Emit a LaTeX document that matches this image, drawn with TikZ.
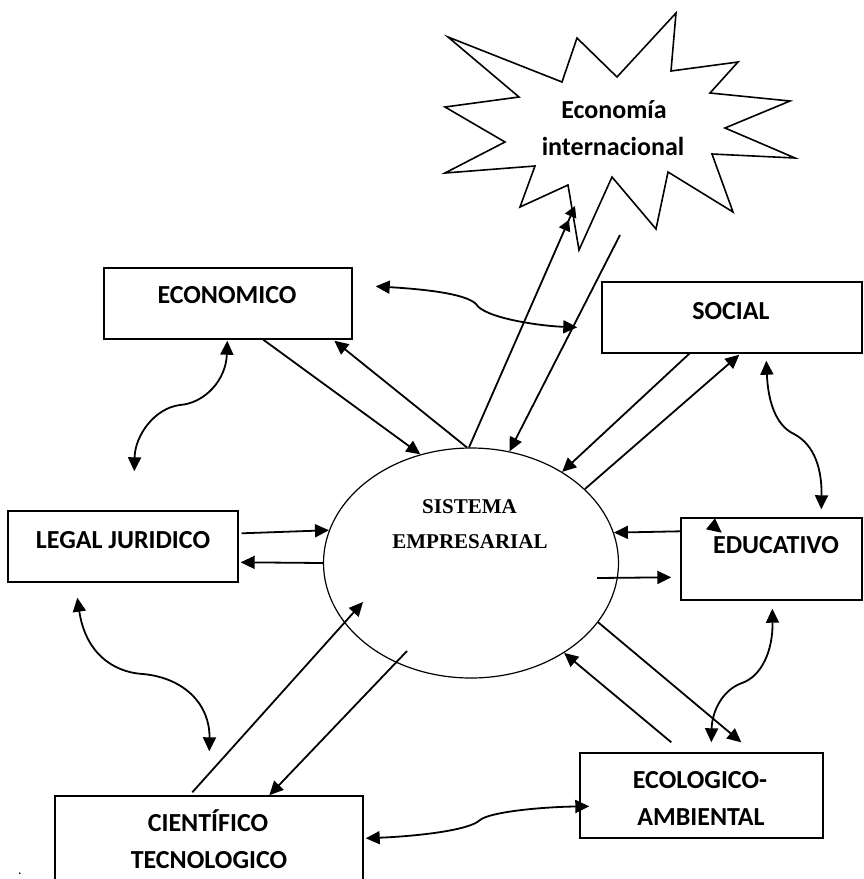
\documentclass[tikz,border=0pt]{standalone}
\usepackage{fontspec}
\setmainfont{Carlito}
\newfontfamily\tnr{Liberation Serif}
\usetikzlibrary{arrows.meta,shapes.geometric,calc}
\begin{document}
\begin{tikzpicture}[x=1pt,y=-1pt,
  box/.style={draw, line width=1.4pt, inner sep=0pt, rectangle},
  lbl/.style={font=\bfseries\fontsize{26}{37}\selectfont, anchor=base, inner sep=0pt},
  serlbl/.style={font=\tnr\bfseries\fontsize{21}{30}\selectfont, anchor=base, inner sep=0pt},
  arr/.style={line width=1.8pt, -{Triangle[length=14pt,width=13pt]}},
  dblarr/.style={line width=1.8pt, -{Triangle[length=11pt,width=12pt,sep=4pt]Triangle[length=11pt,width=12pt]}},
  darr/.style={line width=1.8pt, {Triangle[length=14pt,width=13pt]}-{Triangle[length=14pt,width=13pt]}},
  starline/.style={draw, line width=1.6pt, fill=white, line join=miter}
]
\useasboundingbox (0,0) rectangle (863,879);

% starburst
\path[starline] (448,37) -- (562,82) -- (577,38) -- (617,77) -- (676,13) -- (671,71)
  -- (738,62) -- (710,93) -- (790,101) -- (725,128) -- (795,158) -- (712,154)
  -- (733,212) -- (668,172) -- (656,229) -- (612,177) -- (579,250) -- (568,185)
  -- (520,207) -- (535,166) -- (445,173) -- (505,142) -- (445,107) -- (519,97) -- cycle;
\node[lbl] (st1) at (614,118) {Economía};
\node[lbl] (st2) at (613,155) {internacional};
\coordinate (starin) at (575,206);
\coordinate (starout) at (620,235);

% boxes
\node[box, minimum width=248pt, minimum height=71pt] (eco) at (228,303.5) {};
\node[box, minimum width=260pt, minimum height=71pt] (soc) at (732,317.5) {};
\node[box, minimum width=181pt, minimum height=82pt] (edu) at (771.5,559) {};
\node[box, minimum width=230pt, minimum height=71pt] (leg) at (123,546.5) {};
\node[box, minimum width=308pt, minimum height=92pt] (cie) at (209,842) {};
\node[box, minimum width=243pt, minimum height=85pt] (ecol) at (701.5,795.5) {};
\node[draw, ellipse, line width=1.2pt, inner sep=0pt, minimum width=295pt, minimum height=230pt] (sis) at (471,563) {};

% labels
\node[lbl] (ecot) at (227,303) {ECONOMICO};
\node[lbl] (soct) at (731,319) {SOCIAL};
\node[lbl] (edut) at (776,553) {EDUCATIVO};
\node[lbl] (legt) at (123,548) {LEGAL JURIDICO};
\node[lbl] (ciet1) at (208,831.5) {CIENTÍFICO};
\node[lbl] (ciet2) at (209,868) {TECNOLOGICO};
\node[lbl] (ecolt1) at (700,788) {ECOLOGICO-};
\node[lbl] (ecolt2) at (701,825.5) {AMBIENTAL};
\node[serlbl] (sis1) at (469.5,513.3) {SISTEMA};
\node[serlbl] (sis2) at (470,548.3) {EMPRESARIAL};
\node[anchor=base, inner sep=0pt, font=\fontsize{14}{14}\selectfont] (dot) at (20,874) {.};

% straight arrows
\draw[arr] ($(eco.south west)+(160,0)$) -- (sis.115);
\draw[arr] (sis.92) -- ($(eco.south west)+(231,1)$);
\draw[dblarr] (sis.91) -- (starin);
\draw[arr] (starout) -- (sis.71);
\draw[arr] ($(soc.south west)+(88,0)$) -- (sis.45);
\draw[arr] (sis.33) -- ($(soc.south west)+(138,1)$);
\draw[arr] ($(edu.north west)+(0,14)$) -- (sis.12);
\draw[arr] ($(sis.center)+(126,15)$) -- ($(edu.north west)+(-9,60)$);
\draw[arr] (sis.-25.5) -- ($(ecol.north west)+(162,-10)$);
\draw[arr] ($(ecol.north west)+(92,-10)$) -- (sis.-44.7);
\draw[arr] ($(cie.north west)+(138,-3)$) -- ($(sis.center)+(-108,39)$);
\draw[arr] ($(sis.center)+(-64,88)$) -- ($(cie.north west)+(215,0)$);
\draw[arr] ($(leg.north east)+(3,23)$) -- (sis.167.6);
\draw[arr] (sis.180) -- ($(leg.north east)+(2,52)$);

% small arrowhead inside EDUCATIVO
\fill (715,518.3) -- (706,529.3) -- (721.7,532.7) -- cycle;

% curved double arrows
\draw[darr] ($(eco.north east)+(23,19)$) .. controls (420,289) and (465,293) .. (476,304)
  .. controls (484,318) and (540,326) .. ($(soc.north west)+(-24,46)$);
\draw[darr] ($(soc.south west)+(165,7)$) .. controls (768,400) and (775,425) .. (794,434)
  .. controls (815,445) and (822,470) .. ($(edu.north west)+(141,-8)$);
\draw[darr] ($(edu.south west)+(92,8)$) .. controls (773,650) and (762,676) .. (742,683)
  .. controls (722,690) and (712,712) .. ($(ecol.north west)+(132,-10)$);
\draw[darr] ($(ecol.north west)+(10,54)$) .. controls (540,807) and (490,812) .. (480,820)
  .. controls (470,830) and (420,836) .. ($(cie.north east)+(2,43)$);
\draw[darr] ($(eco.south west)+(124,1)$) .. controls (226,380) and (205,403) .. (180,405)
  .. controls (155,408) and (135,435) .. ($(leg.north west)+(127,-39)$);
\draw[darr] ($(leg.south west)+(70,15)$) .. controls (85,650) and (110,672) .. (143,674)
  .. controls (185,678) and (210,705) .. ($(cie.north west)+(155,-44)$);
\end{tikzpicture}
\end{document}
